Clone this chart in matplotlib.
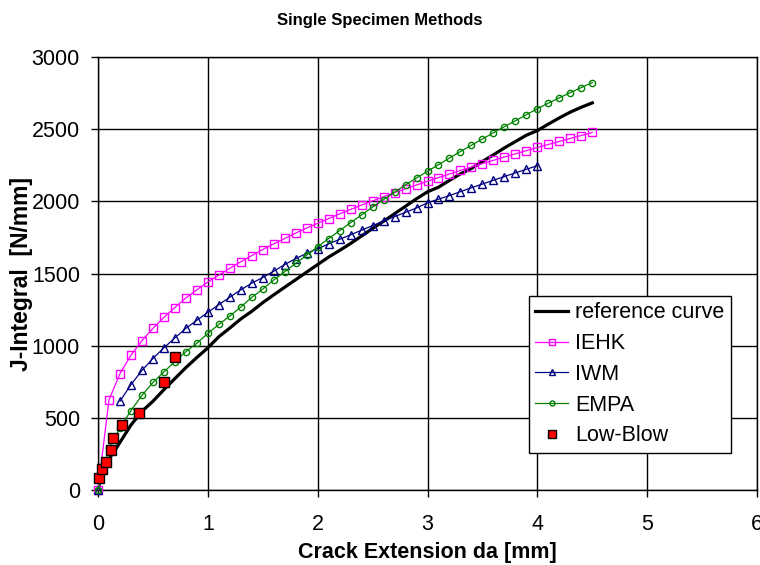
import numpy as np
import matplotlib
matplotlib.use("Agg")
import matplotlib.pyplot as plt

plt.rcParams['font.family'] = ['Liberation Sans', 'DejaVu Sans']

# ---- data ----
da_grid = [0.0, 0.1, 0.2, 0.3, 0.4, 0.5, 0.6, 0.7, 0.8, 0.9,
           1.0, 1.1, 1.2, 1.3, 1.4, 1.5, 1.6, 1.7, 1.8, 1.9,
           2.0, 2.1, 2.2, 2.3, 2.4, 2.5, 2.6, 2.7, 2.8, 2.9,
           3.0, 3.1, 3.2, 3.3, 3.4, 3.5, 3.6, 3.7, 3.8, 3.9,
           4.0, 4.1, 4.2, 4.3, 4.4, 4.5]

ref_x = [0.0, 0.02, 0.05, 0.1, 0.15, 0.2, 0.3, 0.4, 0.5, 0.6, 0.7, 0.8, 0.9] + da_grid[10:]
ref_y = [0, 70, 140, 215, 270, 330, 450, 545, 615, 695, 772, 848, 918,
         985, 1062, 1122, 1185, 1238, 1298, 1352, 1405, 1457, 1510,
         1562, 1614, 1660, 1708, 1760, 1812, 1862, 1914, 1966, 2018,
         2066, 2098, 2145, 2190, 2228, 2276, 2322, 2370, 2414, 2458,
         2490, 2535, 2578, 2618, 2652, 2682]

iehk_x = da_grid
iehk_y = [0, 625, 806, 934, 1034, 1120, 1196, 1264, 1331, 1387,
          1441, 1489, 1536, 1581, 1624, 1666, 1705, 1743, 1780, 1815,
          1848, 1881, 1913, 1944, 1974, 2003, 2032, 2060, 2087, 2113,
          2139, 2165, 2189, 2214, 2238, 2261, 2284, 2307, 2329, 2351,
          2373, 2394, 2415, 2436, 2456, 2477]

iwm_x = [0.0, np.nan] + da_grid[2:41]
iwm_y = [0, np.nan,
         615, 730, 828, 911, 985, 1054, 1120, 1176,
         1231, 1284, 1336, 1387, 1433, 1472, 1516, 1562, 1603, 1640,
         1672, 1705, 1737, 1768, 1800, 1832, 1864, 1894, 1924, 1954,
         1990, 2015, 2040, 2067, 2094, 2120, 2146, 2172, 2197, 2222,
         2247]

empa_x = da_grid
empa_y = [0, 290, 430, 550, 655, 745, 818, 890, 958, 1017,
          1085, 1147, 1205, 1268, 1335, 1392, 1455, 1512, 1570, 1627,
          1685, 1742, 1797, 1852, 1906, 1960, 2012, 2064, 2114, 2162,
          2208, 2254, 2300, 2345, 2389, 2432, 2475, 2517, 2558, 2600,
          2642, 2680, 2717, 2753, 2788, 2823]

lowblow_x = [0.01, 0.04, 0.07, 0.12, 0.14, 0.22, 0.37, 0.60, 0.70]
lowblow_y = [85, 143, 196, 275, 358, 452, 535, 745, 920]

x_ticks = [0, 1, 2, 3, 4, 5, 6]
y_ticks = [0, 500, 1000, 1500, 2000, 2500, 3000]

# ---- figure ----
fig = plt.figure(figsize=(7.6, 5.65), dpi=100)
ax = fig.add_axes([98/760, 1-490/565, (757-98)/760, (490-57)/565])

ax.plot(ref_x, ref_y, color='black', lw=2.3, label='reference curve', zorder=3)
ax.plot(iehk_x, iehk_y, color='#FF00FF', lw=0.9, marker='s', ms=5.5,
        mfc='none', mec='#FF00FF', mew=1.0, label='IEHK', zorder=4, clip_on=False)
ax.plot(iwm_x, iwm_y, color='#000080', lw=0.9, marker='^', ms=6,
        mfc='none', mec='#000080', mew=1.0, label='IWM', zorder=4, clip_on=False)
ax.plot(empa_x, empa_y, color='#008000', lw=0.9, marker='o', ms=4.5,
        mfc='none', mec='#008000', mew=1.0, label='EMPA', zorder=4, clip_on=False)
ax.plot(lowblow_x, lowblow_y, ls='none', marker='s', ms=6.5,
        mfc='#FF0000', mec='black', mew=1.0, label='Low-Blow', zorder=5, clip_on=False)

ax.set_xlim(0, 6)
ax.set_ylim(0, 3000)
ax.set_xticks(x_ticks)
ax.set_yticks(y_ticks)
ax.grid(True, color='black', lw=1.0)
ax.set_axisbelow(True)
for s in ax.spines.values():
    s.set_color('black')
    s.set_linewidth(1.0)
ax.tick_params(axis='both', direction='out', length=5, width=1.0,
               labelsize=15.5, colors='black')
ax.tick_params(axis='x', pad=12)
ax.tick_params(axis='y', pad=8)

ax.set_xlabel('Crack Extension da [mm]', fontsize=15.5, fontweight='bold', labelpad=5)
ax.set_ylabel('J-Integral  [N/mm]', fontsize=16.5, fontweight='bold')
ax.yaxis.set_label_coords((33 - 98) / 659, 0.5)
fig.text(0.5, 1-20/565, 'Single Specimen Methods', ha='center', va='center',
         fontsize=12, fontweight='bold')

leg = ax.legend(loc='upper left', bbox_to_anchor=((529-98)/659, (490-296)/433),
                fontsize=15.5, frameon=True, fancybox=False, edgecolor='black',
                framealpha=1, borderpad=0.3, labelspacing=0.45,
                handlelength=1.5, handletextpad=0.35, borderaxespad=0,
                markerscale=0.8)
leg.get_frame().set_linewidth(1.0)

fig.savefig('out.png', dpi=100)
